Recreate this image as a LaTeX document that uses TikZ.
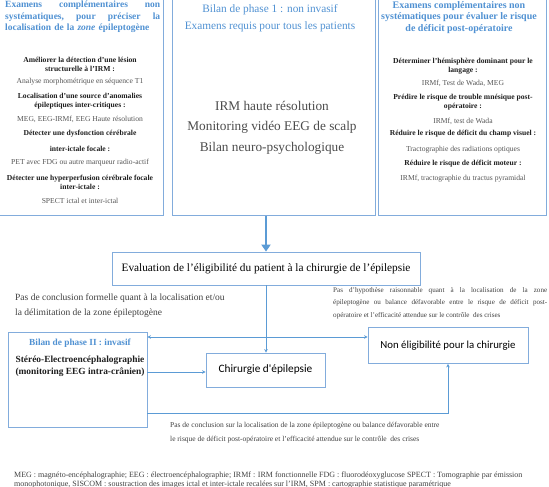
\documentclass[tikz,border=0pt]{standalone}
\usepackage{fontspec}
\setmainfont{Liberation Serif}
\newfontfamily\calib{Carlito}
\usetikzlibrary{arrows.meta}
\definecolor{bord}{RGB}{130,172,220}
\definecolor{ttl}{RGB}{80,145,210}
\definecolor{conn}{RGB}{91,155,213}
\definecolor{txt}{RGB}{30,30,30}
\definecolor{lite}{RGB}{85,85,85}
\begin{document}
\begin{tikzpicture}[x=1pt,y=-1pt,
  topbox/.style={draw=bord,line width=1.1pt,inner sep=0pt,anchor=north west},
  flow/.style={draw=bord,line width=0.8pt,fill=white,inner sep=1pt,align=center},
  ttlL/.style={text=ttl,font=\fontsize{9.5}{11.5}\selectfont\bfseries,inner sep=0pt,align=left},
  ttlR/.style={text=ttl,font=\fontsize{10}{11.5}\selectfont\bfseries,inner sep=0pt,align=center},
  ttlM/.style={text=ttl,font=\fontsize{11.3}{13}\selectfont,inner sep=0pt},
  itb/.style={text=txt,font=\fontsize{7.6}{9}\selectfont\bfseries,inner sep=0pt,align=center},
  itr/.style={text=lite,font=\fontsize{7.6}{9}\selectfont,inner sep=0pt,align=center},
  mid/.style={text=txt!80,font=\fontsize{13.3}{15}\selectfont,inner sep=0pt},
  lbl/.style={text=txt!85,inner sep=0pt},
  line/.style={draw=conn,line width=0.6pt},
  arr/.style={draw=conn,line width=0.6pt,-{Stealth[length=3.5pt,width=3.5pt]}},
  arr2/.style={draw=conn,line width=0.6pt,{Stealth[length=3.5pt,width=3.5pt]}-{Stealth[length=3.5pt,width=3.5pt]}},
  big/.style={draw=conn,line width=2pt,-{Triangle[length=7pt,width=9pt]}}
]
\useasboundingbox (0,0) rectangle (549,487);

% top boxes
\node[topbox,minimum width=166pt,minimum height=218pt] (lbox) at (-3,-3) {};
\node[topbox,minimum width=203pt,minimum height=218pt] (mbox) at (172,-3) {};
\node[topbox,minimum width=168pt,minimum height=218pt] (rbox) at (378,-3) {};

% left box text
\node[ttlL,text width=155pt,anchor=north west] (lt) at (5,1) {Examens\hfill compl\'ementaires\hfill non\\syst\'ematiques,\hfill pour\hfill pr\'eciser\hfill la\\localisation de la \textit{zone} \'epileptog\`ene};
\node[itb] (l1) at (80,64.5) {Am\'eliorer la d\'etection d'une l\'esion\\structurelle \`a l'IRM :};
\node[itr] (l2) at (80,82) {Analyse morphom\'etrique en s\'equence T1};
\node[itb] (l3) at (80,101) {Localisation d'une source d'anomalies\\\'epileptiques inter-critiques :};
\node[itr] (l4) at (80,119) {MEG, EEG-IRMf, EEG Haute r\'esolution};
\node[itb] (l5) at (80,134) {D\'etecter une dysfonction c\'er\'ebrale};
\node[itb] (l6) at (80,149) {inter-ictale focale :};
\node[itr] (l7) at (80,163) {PET avec FDG ou autre marqueur radio-actif};
\node[itb] (l8) at (80,182.5) {D\'etecter une hyperperfusion c\'er\'ebrale focale\\inter-ictale :};
\node[itr] (l9) at (80,201) {SPECT ictal et inter-ictal};

% middle box text
\node[ttlM] (m1) at (270,10) {Bilan de phase 1 : non invasif};
\node[ttlM] (m2) at (270,27) {Examens requis pour tous les patients};
\node[mid] (m3) at (272,106) {IRM haute r\'esolution};
\node[mid] (m4) at (272,127) {Monitoring vid\'eo EEG de scalp};
\node[mid] (m5) at (272,148) {Bilan neuro-psychologique};

% right box text
\node[ttlR,anchor=north] (rt) at (459,1) {Examens compl\'ementaires non\\syst\'ematiques pour \'evaluer le risque\\de d\'eficit post-op\'eratoire};
\node[itb] (r1) at (463,66) {D\'eterminer l'h\'emisph\`ere dominant pour le\\langage :};
\node[itr] (r2) at (463,83) {IRMf, Test de Wada, MEG};
\node[itb] (r3) at (463,102) {Pr\'edire le risque de trouble mn\'esique post-\\op\'eratoire :};
\node[itr] (r4) at (463,121) {IRMf, test de Wada};
\node[itb] (r5) at (463,134) {R\'eduire le risque de d\'eficit du champ visuel :};
\node[itr] (r6) at (463,150) {Tractographie des radiations optiques};
\node[itb] (r7) at (463,164) {R\'eduire le risque de d\'eficit moteur :};
\node[itr] (r8) at (463,179) {IRMf, tractographie du tractus pyramidal};

% flow boxes
\node[flow,minimum width=308pt,minimum height=33pt,font=\fontsize{11.3}{13}\selectfont] (eval) at (266,268.5) {Evaluation de l'\'eligibilit\'e du patient \`a la chirurgie de l'\'epilepsie};
\node[flow,minimum width=139pt,minimum height=95pt] (phase2) at (77.5,379.5) {};
\node[text=ttl,font=\fontsize{9.3}{11}\selectfont\bfseries,inner sep=0pt] (p2t) at (80,343) {Bilan de phase II : invasif};
\node[text=txt,font=\fontsize{9.4}{12}\selectfont\bfseries,inner sep=0pt,align=center] (p2b) at (80,366) {St\'er\'eo-Electroenc\'ephalographie\\(monitoring EEG intra-cr\^anien)};
\node[flow,minimum width=119pt,minimum height=34pt,font=\calib\fontsize{11.3}{13}\selectfont] (chir) at (265.5,370) {Chirurgie d'\'epilepsie};
\node[flow,minimum width=160pt,minimum height=36pt,font=\calib\fontsize{10.8}{12}\selectfont] (nonel) at (448,345.5) {Non \'eligibilit\'e pour la chirurgie};

% big arrow
\draw[big] (eval.north |- mbox.south) -- (eval.north);

% connectors
\coordinate (J) at (266,337);
\coordinate (B) at (448,413);
\draw[line] (eval.south) -- (J);
\draw[arr2] (J -| phase2.east) -- (J -| nonel.west);
\draw[arr] (J) -- (J |- chir.north);
\draw[arr] (phase2.east |- 0,372) -- (chir.west |- 0,372);
\draw[arr] (phase2.east |- B) -- (B) -- (nonel.south);

% labels
\node[lbl,anchor=north west,align=left,font=\fontsize{9.5}{15}\selectfont] (t1) at (15,294) {Pas de conclusion formelle quant \`a la localisation et/ou\\la d\'elimitation de la zone \'epileptog\`ene};
\node[lbl,anchor=north west,text width=214pt,align=justify,font=\fontsize{7.1}{12.5}\selectfont] (t2) at (333,287) {Pas d'hypoth\`ese raisonnable quant \`a la localisation de la zone\linebreak \'epileptog\`ene ou balance d\'efavorable entre le risque de d\'eficit post-\linebreak op\'eratoire et l'efficacit\'e attendue sur le contr\^ole\ \ des crises};
\node[lbl,anchor=north west,align=left,font=\fontsize{7.5}{14}\selectfont] (t3) at (170,422) {Pas de conclusion sur la localisation de la zone \'epileptog\`ene ou balance d\'efavorable entre\\le risque de d\'eficit post-op\'eratoire et l'efficacit\'e attendue sur le contr\^ole\ \ des crises};
\node[lbl,anchor=base west,font=\fontsize{8}{9}\selectfont] (f1) at (14,477.5) {MEG : magn\'eto-enc\'ephalographie; EEG : \'electroenc\'ephalographie; IRMf : IRM fonctionnelle FDG : fluorod\'eoxyglucose SPECT : Tomographie par \'emission};
\node[lbl,anchor=base west,font=\fontsize{8}{9}\selectfont] (f2) at (14,486.3) {monophotonique, SISCOM : soustraction des images ictal et inter-ictale recal\'ees sur l'IRM, SPM : cartographie statistique param\'etrique};
\end{tikzpicture}
\end{document}
